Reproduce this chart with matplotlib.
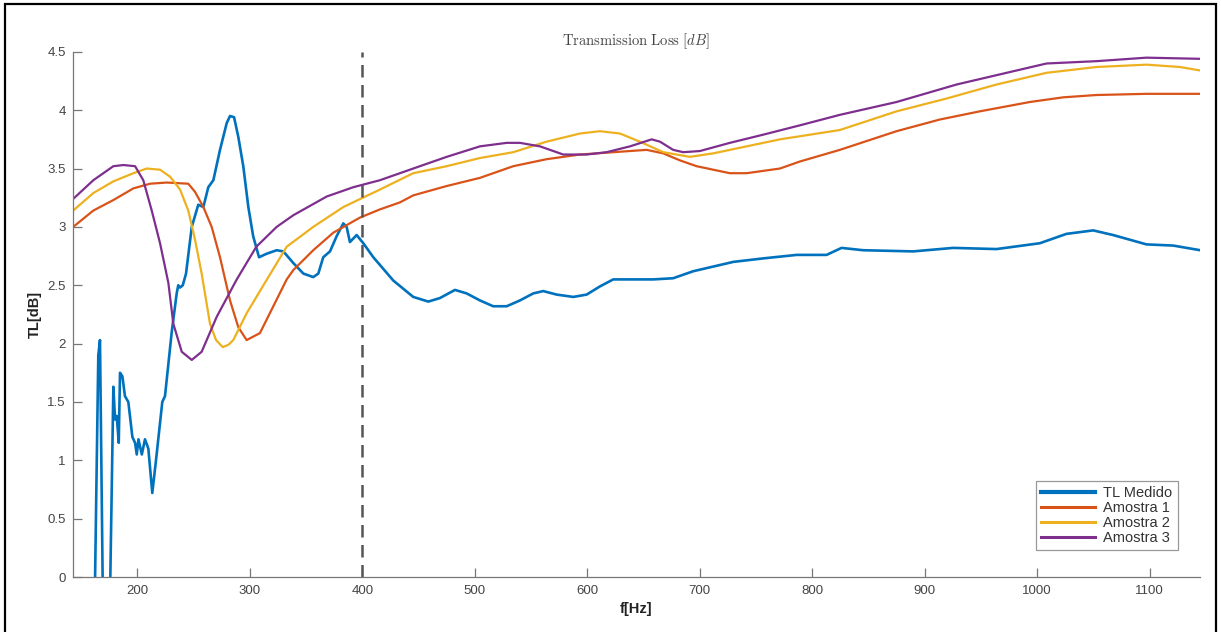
import matplotlib
matplotlib.use("Agg")
import matplotlib.pyplot as plt
from matplotlib.lines import Line2D

plt.rcParams['font.family'] = ['Liberation Sans', 'DejaVu Sans']
plt.rcParams['mathtext.fontset'] = 'cm'

# TL Medido (measured)
f_medido = [162, 165.3, 166.8, 169.5, 175.5, 178.7, 180.2, 181.7, 183.5, 184.6,
            186.7, 189, 192, 195.6, 198, 199.5, 201, 204, 206.8, 209.8,
            213.3, 216.6, 222.2, 224.6, 230.6, 235, 236.4, 238, 240.4, 243.3,
            248.4, 254.2, 258.7, 263.1, 267.6, 273.5, 279.5, 282.4, 286, 289.8,
            294.2, 298.7, 303, 308.2, 315, 323.9, 329.8, 338.7, 347.6, 356.4,
            360.9, 365.3, 371.3, 377.2, 383.1, 386.1, 389, 395, 400.9, 409.8,
            418.7, 427.6, 445.3, 458.7, 469, 482.4, 492.8, 504.6, 516.4, 528.4,
            540.2, 552, 560.9, 572.8, 587.6, 599.5, 611.3, 623.1, 640.9, 658.7,
            676.4, 694.2, 712, 729.8, 756.4, 786.1, 812.8, 826.1, 845.3, 889.8,
            925.3, 963.9, 1002.4, 1026, 1049.8, 1067.6, 1097.2, 1120.9, 1145]
tl_medido = [-0.3, 1.9, 2.03, -0.3, -0.3, 1.63, 1.35, 1.38, 1.15, 1.75,
             1.72, 1.55, 1.5, 1.2, 1.15, 1.05, 1.18, 1.05, 1.18, 1.1,
             0.72, 1.0, 1.5, 1.55, 2.1, 2.43, 2.5, 2.48, 2.5, 2.6,
             3.0, 3.19, 3.17, 3.34, 3.40, 3.66, 3.89, 3.95, 3.94, 3.77,
             3.52, 3.17, 2.92, 2.74, 2.77, 2.80, 2.79, 2.69, 2.60, 2.57,
             2.60, 2.74, 2.79, 2.92, 3.03, 3.0, 2.87, 2.93, 2.86, 2.74,
             2.64, 2.54, 2.40, 2.36, 2.39, 2.46, 2.43, 2.37, 2.32, 2.32,
             2.37, 2.43, 2.45, 2.42, 2.40, 2.42, 2.49, 2.55, 2.55, 2.55,
             2.56, 2.62, 2.66, 2.70, 2.73, 2.76, 2.76, 2.82, 2.80, 2.79,
             2.82, 2.81, 2.86, 2.94, 2.97, 2.93, 2.85, 2.84, 2.80]

# Amostra 1
f_a1 = [143, 160.9, 178.7, 196.5, 211.3, 226.1, 245.3, 251.3, 258.7, 266.1,
        273.5, 282.4, 289.8, 297.2, 309, 320.9, 332.8, 338.7, 356.4, 374.2,
        398, 415.7, 433.5, 445.3, 475, 504.6, 534.2, 563.8, 593.5, 623.1,
        652.8, 667.6, 682.4, 697.2, 726.8, 741.7, 771.3, 789, 824.6, 875,
        913.5, 949, 993.5, 1023.1, 1052.8, 1097.2, 1145]
tl_a1 = [3.0, 3.14, 3.23, 3.33, 3.37, 3.38, 3.37, 3.30, 3.17, 3.0,
         2.74, 2.37, 2.14, 2.03, 2.09, 2.32, 2.55, 2.63, 2.80, 2.95,
         3.08, 3.15, 3.21, 3.27, 3.35, 3.42, 3.52, 3.58, 3.62, 3.64,
         3.66, 3.63, 3.57, 3.52, 3.46, 3.46, 3.50, 3.56, 3.66, 3.82,
         3.92, 3.99, 4.07, 4.11, 4.13, 4.14, 4.14]

# Amostra 2
f_a2 = [143, 160.9, 178.7, 196.5, 208.4, 220.2, 229.1, 238, 245.3, 251.3,
        257.2, 264.6, 270, 275.9, 281, 285.3, 297.2, 309, 332.8, 356.4,
        383.1, 415.7, 445.3, 475, 504.6, 534.2, 563.8, 593.5, 611.3, 629.1,
        646.8, 667.6, 691.3, 712, 741.7, 771.3, 824.6, 875, 919.5, 963.9,
        1008.3, 1052.8, 1097.2, 1127, 1145]
tl_a2 = [3.14, 3.29, 3.39, 3.46, 3.50, 3.49, 3.43, 3.32, 3.14, 2.89,
         2.60, 2.17, 2.03, 1.97, 1.99, 2.03, 2.26, 2.45, 2.83, 3.0,
         3.17, 3.32, 3.46, 3.52, 3.59, 3.64, 3.73, 3.80, 3.82, 3.80,
         3.73, 3.64, 3.60, 3.63, 3.69, 3.75, 3.83, 3.99, 4.10, 4.22,
         4.32, 4.37, 4.39, 4.37, 4.34]

# Amostra 3
f_a3 = [143, 160.9, 178.7, 187.6, 198, 205.3, 212.8, 220.2, 227.6, 232,
        239.5, 248.4, 257.2, 270.6, 288.4, 305.8, 323.9, 338.7, 368.3, 392,
        415.7, 445.3, 475, 504.6, 528.4, 540.2, 558, 578.7, 599.5, 617.2,
        638, 657.3, 664.7, 676.4, 685.3, 700.2, 726.8, 756.4, 789, 824.6,
        875, 928.4, 963.9, 1008.3, 1052.8, 1097.2, 1145]
tl_a3 = [3.24, 3.40, 3.52, 3.53, 3.52, 3.40, 3.14, 2.86, 2.52, 2.17,
         1.93, 1.86, 1.93, 2.23, 2.55, 2.83, 3.0, 3.10, 3.26, 3.34,
         3.40, 3.50, 3.60, 3.69, 3.72, 3.72, 3.69, 3.62, 3.62, 3.64,
         3.69, 3.75, 3.73, 3.66, 3.64, 3.65, 3.72, 3.79, 3.87, 3.96,
         4.07, 4.22, 4.30, 4.40, 4.42, 4.45, 4.44]

labels = ['TL Medido', 'Amostra 1', 'Amostra 2', 'Amostra 3']
colors = ['#0072BD', '#D95319', '#EDB120', '#7E2F8E']
x_ticks = [200, 300, 400, 500, 600, 700, 800, 900, 1000, 1100]
y_ticks = [0, 0.5, 1, 1.5, 2, 2.5, 3, 3.5, 4, 4.5]
y_ticklabels = ['0', '0.5', '1', '1.5', '2', '2.5', '3', '3.5', '4', '4.5']

fig = plt.figure(figsize=(12.21, 6.32), dpi=100)
ax = fig.add_axes([0.0595, 0.087, 0.9235, 0.831])

ax.plot(f_medido, tl_medido, color=colors[0], lw=1.9)
ax.plot(f_a1, tl_a1, color=colors[1], lw=1.6)
ax.plot(f_a2, tl_a2, color=colors[2], lw=1.6)
ax.plot(f_a3, tl_a3, color=colors[3], lw=1.6)
ax.axvline(400, color='#555555', lw=1.8, dashes=(5, 3))

ax.set_xlim(142.5, 1145)
ax.set_ylim(0, 4.5)
ax.set_xticks(x_ticks)
ax.set_yticks(y_ticks)
ax.set_yticklabels(y_ticklabels)

for s in ['top', 'right']:
    ax.spines[s].set_visible(False)
for s in ['left', 'bottom']:
    ax.spines[s].set_color('#777777')
    ax.spines[s].set_linewidth(0.9)
ax.tick_params(direction='in', length=6.5, width=0.9, color='#777777',
               labelcolor='#444444', labelsize=9.5)
ax.tick_params(axis='x', pad=6)
ax.tick_params(axis='y', pad=5)

ax.set_xlabel('f[Hz]', fontsize=10.5, fontweight='bold', color='#222222', labelpad=3)
ax.set_ylabel('TL[dB]', fontsize=10.5, fontweight='bold', color='#222222', labelpad=4)
ax.set_title(r'$\mathrm{Transmission\ Loss}\ [dB]$', fontsize=10.5, color='#444444', pad=5)

handles = [Line2D([], [], color=colors[0], lw=3.0),
           Line2D([], [], color=colors[1], lw=2.2),
           Line2D([], [], color=colors[2], lw=2.2),
           Line2D([], [], color=colors[3], lw=2.2)]
leg = ax.legend(handles, labels, loc='lower right', bbox_to_anchor=(0.98, 0.051),
                borderaxespad=0, fontsize=10.5, handlelength=3.7, handletextpad=0.6,
                labelspacing=0.08, borderpad=0.35, fancybox=False, framealpha=1)
leg.get_frame().set_edgecolor('#999999')
leg.get_frame().set_linewidth(0.9)
for t in leg.get_texts():
    t.set_color('#333333')

# border round the whole picture (bottom edge lies outside the image)
fig.add_artist(plt.Rectangle((5 / 1221, -0.02), 1211 / 1221, 1.02 - 4 / 632,
                             transform=fig.transFigure, fill=False,
                             edgecolor='black', lw=1.6))

fig.savefig('out.png', dpi=100)
